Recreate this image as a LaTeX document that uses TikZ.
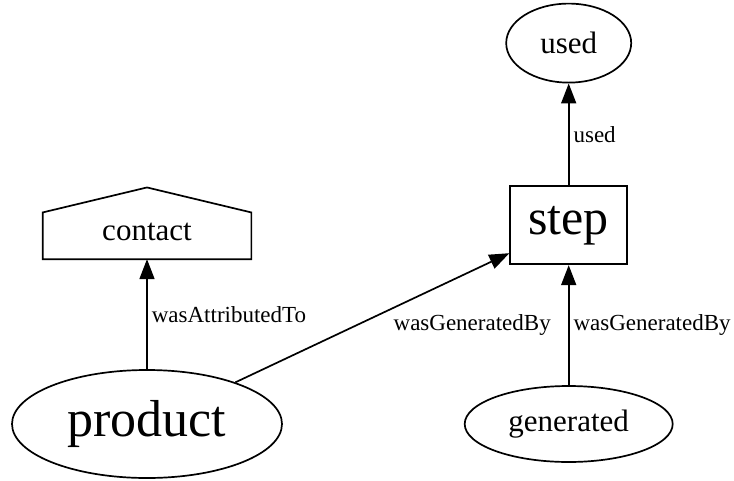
\documentclass[tikz,border=0pt]{standalone}
\usepackage{fontspec}
\setmainfont{Liberation Serif}
\usetikzlibrary{arrows.meta,positioning,shapes.geometric}

\begin{document}
\begin{tikzpicture}[x=1pt, y=-1pt, line width=1.7pt, >={Triangle[length=20pt,width=15pt]}]
            \tikzstyle{entity} = [draw, ellipse, inner sep=0pt]
            \tikzstyle{activity} = [draw, rectangle, minimum width=117pt, minimum height=78pt, font=\fontsize{50}{50}\selectfont]
            \tikzstyle{agent} = [rectangle, minimum width=207pt, minimum height=70pt, text height=34pt, font=\fontsize{31}{31}\selectfont]
            \tikzstyle{rel} = [inner sep=4pt, font=\fontsize{23}{23}\selectfont]
            \useasboundingbox (0,0) rectangle (734,480);

            \node [entity, minimum width=270pt, minimum height=108pt, font=\fontsize{52}{52}\selectfont] (product) at (147,424) {product};
            \node [agent, above = 110pt of product] (contact) {contact};
            \node [entity, minimum width=208pt, minimum height=76pt, font=\fontsize{31}{31}\selectfont, right = 181pt of product] (generated) {generated};
            \node [activity, above = 120pt of generated] (step) {step};
            \node [entity, minimum width=125pt, minimum height=79pt, font=\fontsize{31}{31}\selectfont, above = 102pt of step] (used) {used};
            % house outline of the agent
            \draw (contact.south west) -- (contact.south east) -- ([yshift=-25pt]contact.north east) -- (contact.north) -- ([yshift=-25pt]contact.north west) -- cycle;
            \draw [->] (product) -- node[rel, anchor=west] {wasAttributedTo} (contact);
            \draw [->] (product) -- node[rel, pos=0.56, anchor=north west] {wasGeneratedBy} (step);
            \draw [->] (generated) -- node[rel, anchor=west] {wasGeneratedBy} (step);
            \draw [->] (step) -- node[rel, anchor=west] {used} (used);
\end{tikzpicture}
\end{document}
